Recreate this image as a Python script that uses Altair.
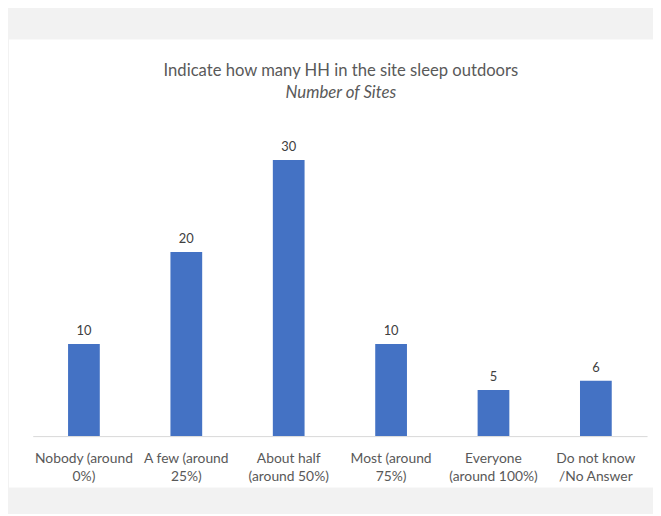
import altair as alt
import pandas as pd

categories = [
    "Nobody (around|0%)",
    "A few (around|25%)",
    "About half|(around 50%)",
    "Most (around|75%)",
    "Everyone|(around 100%)",
    "Do not know|/No Answer",
]
sites = [10, 20, 30, 10, 5, 6]

df = pd.DataFrame({"category": categories, "sites": sites})

FONT = "Lato"

x = alt.X(
    "category:N",
    sort=categories,
    scale=alt.Scale(range=[24, 645], paddingInner=0.69, paddingOuter=0.345),
    axis=alt.Axis(
        title=None,
        labelAngle=0,
        labelExpr="split(datum.label, '|')",
        labelFont=FONT,
        labelFontSize=14,
        labelColor="#595959",
        labelLineHeight=18,
        labelPadding=16,
        labelLimit=0,
        ticks=False,
        domainColor="#d9d9d9",
        domainWidth=1,
        offset=-52,
    ),
)
y = alt.Y(
    "sites:Q",
    scale=alt.Scale(domain=[-5.6, 43.1], nice=False, zero=False),
    axis=None,
)

base = alt.Chart(df).encode(x=x, y=y)

bars = base.mark_bar(color="#4472C4")
labels = base.mark_text(
    dy=-9, fontSize=13, font=FONT, color="#404040", baseline="alphabetic"
).encode(text="sites:Q")

chart = (
    alt.layer(bars, labels)
    .properties(
        width=651,
        height=453,
        autosize=alt.AutoSizeParams(type="none"),
        padding={"left": 1, "top": 29, "right": 0, "bottom": 24},
        background="#f2f2f2",
        title=alt.Title(
            "Indicate how many HH in the site sleep outdoors",
            subtitle="Number of Sites",
            font=FONT,
            fontSize=16.8,
            fontWeight="normal",
            color="#595959",
            subtitleFont=FONT,
            subtitleFontSize=17,
            subtitleFontStyle="italic",
            subtitleColor="#595959",
            subtitlePadding=5,
            anchor="middle",
            offset=-62,
            dx=10,
        ),
    )
    .configure_view(fill="white", stroke="white", strokeWidth=0)
)

chart.save("out.html", embed_options={"renderer": "svg", "actions": False})
